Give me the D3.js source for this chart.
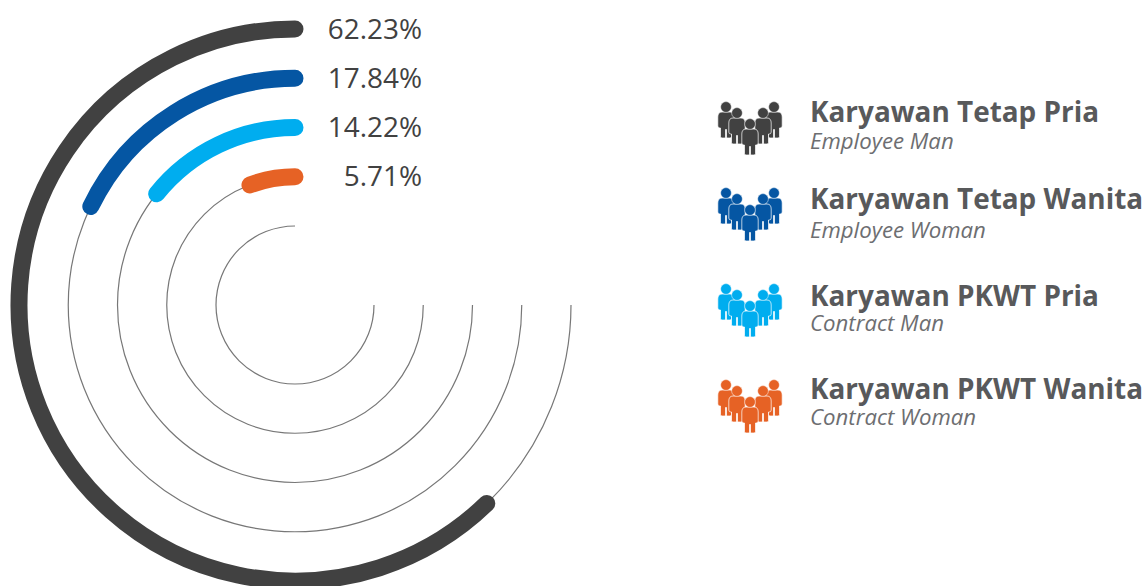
<!DOCTYPE html>
<html>
<head>
<meta charset="utf-8">
<script src="https://cdn.jsdelivr.net/npm/d3@7"></script>
<style>
  html, body { margin: 0; padding: 0; background: #fff; }
  svg { display: block; }
  text { font-family: "Open Sans", sans-serif; }
</style>
</head>
<body>
<svg id="chart"></svg>
<script>
const percents = [62.23, 17.84, 14.22, 5.71]
const colors = ['#414141', '#0556a3', '#00adef', '#e66225']
const titles = ['Karyawan Tetap Pria', 'Karyawan Tetap Wanita', 'Karyawan PKWT Pria', 'Karyawan PKWT Wanita']
const subtitles = ['Employee Man', 'Employee Woman', 'Contract Man', 'Contract Woman']
// ring order from outside in, the innermost ring has only its track
const rings = [0, 1, 2, 3, 4]

let svgWidth = 1145, svgHeight = 586
let cx = 295, cy = 305

let svg = d3.select('#chart').attr('width', svgWidth).attr('height', svgHeight)
let g = svg.append('g').attr('transform', `translate(${cx},${cy})`)

let radius = d3.scaleLinear().domain([0, 4]).range([276, 79])
let angle = d3.scaleLinear().domain([0, 100]).range([0, -2 * Math.PI])

// thin tracks: top, counter clockwise, to 3 o'clock
g.selectAll('path.track').data(rings).enter().append('path')
  .attr('class', 'track')
  .attr('fill', 'none')
  .attr('stroke', '#777')
  .attr('stroke-width', 1.2)
  .attr('d', d => {
    let p = d3.path()
    p.arc(0, 0, radius(d), -Math.PI / 2, 0, true)
    return p.toString()
  })

g.selectAll('path.bar').data(percents).enter().append('path')
  .attr('class', 'bar')
  .attr('fill', 'none')
  .attr('stroke', (d, i) => colors[i])
  .attr('stroke-width', 17)
  .attr('stroke-linecap', 'round')
  .attr('d', (d, i) => {
    let p = d3.path()
    p.arc(0, 0, radius(i), -Math.PI / 2, -Math.PI / 2 + angle(d), true)
    return p.toString()
  })

g.selectAll('text.pct').data(percents).enter().append('text')
  .attr('class', 'pct')
  .attr('x', 422 - cx)
  .attr('y', (d, i) => -radius(i) + 9.5)
  .attr('text-anchor', 'end')
  .attr('font-size', 27.9)
  .attr('fill', '#414141')
  .text(d => d.toFixed(2) + '%')

// legend
let legendY = d3.scaleOrdinal().domain(titles).range([124, 210, 306, 402])
let titleY = d3.scaleOrdinal().domain(titles).range([122, 209, 306, 399])
let subY = d3.scaleOrdinal().domain(titles).range([149, 238, 331, 425])

const people = [[-24, -17], [24, -17], [-13, -11], [13, -11], [0, 0]]
const person = 'M-4,5 C-7,5 -8.2,7 -8.2,10 L-8.2,19 Q-8.2,21 -6.2,21 L-5.5,21 L-5.5,29.5 Q-5.5,31 -4,31 L-1.5,31 Q-0.5,31 -0.5,30 L-0.5,22.5 L0.5,22.5 L0.5,30 Q0.5,31 1.5,31 L4,31 Q5.5,31 5.5,29.5 L5.5,21 L6.2,21 Q8.2,21 8.2,19 L8.2,10 C8.2,7 7,5 4,5 Z'

let legend = svg.selectAll('g.legend').data(titles).enter().append('g').attr('class', 'legend')

legend.each(function (t, i) {
  let icon = d3.select(this).append('g').attr('transform', `translate(750,${legendY(t)})`)
  let man = icon.selectAll('g').data(people).enter().append('g')
    .attr('transform', d => `translate(${d[0]},${d[1]})`)
  man.append('path').attr('d', person)
    .attr('fill', colors[i]).attr('stroke', '#fff').attr('stroke-width', 0.7)
  man.append('circle').attr('r', 5.4)
    .attr('fill', colors[i]).attr('stroke', '#fff').attr('stroke-width', 0.5)
})

legend.append('text')
  .attr('x', 810).attr('y', d => titleY(d))
  .attr('font-size', 27.9).attr('font-weight', 700).attr('fill', '#58595b')
  .text(d => d)

legend.append('text')
  .attr('x', 810).attr('y', d => subY(d))
  .attr('font-size', 22.2).attr('font-style', 'italic').attr('fill', '#6d6e71')
  .text((d, i) => subtitles[i])
</script>
</body>
</html>
